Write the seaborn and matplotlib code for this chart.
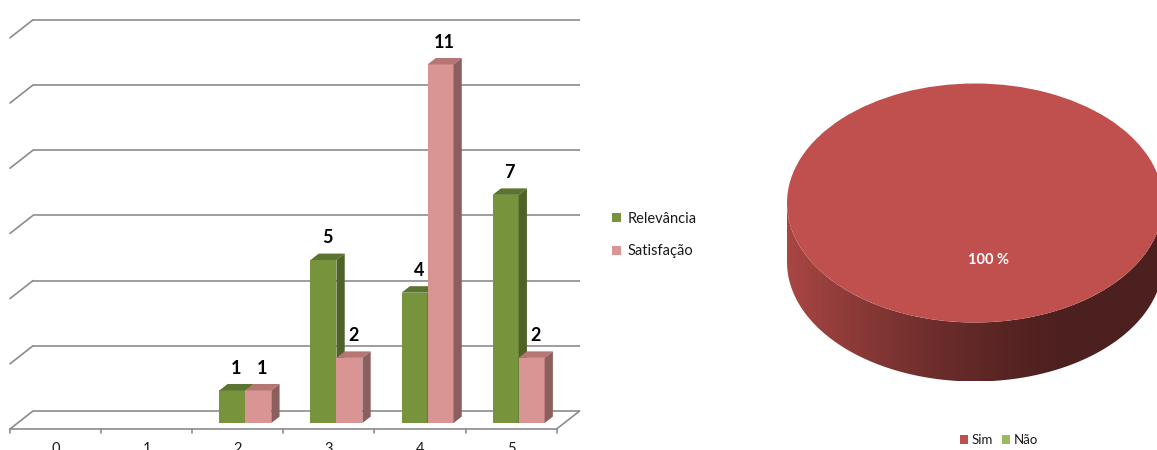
import numpy as np
import pandas as pd
import seaborn as sns
import matplotlib
matplotlib.use("Agg")
import matplotlib.pyplot as plt
from matplotlib.patches import Polygon, Patch, PathPatch
from matplotlib.path import Path
import matplotlib.transforms as mtransforms
from matplotlib.colors import to_rgb

# ---- data -------------------------------------------------------------
notas = ["0", "1", "2", "3", "4", "5"]
relevancia = [0, 0, 1, 5, 4, 7]
satisfacao = [0, 0, 1, 2, 11, 2]
series_names = ["Relevância", "Satisfação"]
front_colors = ["#77933C", "#D99594"]
top_colors = ["#5B7530", "#B67674"]
side_colors = ["#4F6228", "#8C5F5E"]
grid_values = [0, 2, 4, 6, 8, 10, 12]

respostas = ["Sim", "Não"]
percentuais = [100, 0]
pie_colors = ["#C0504D", "#9BBB59"]

# ---- style ------------------------------------------------------------
sns.set_theme(style="white")
plt.rcParams["font.family"] = ["Lato", "DejaVu Sans"]
TEXT = "#1a1a1a"
GRID = "#8c8c8c"

W, H = 1157, 450
fig = plt.figure(figsize=(W / 100, H / 100), dpi=100)

# ---- 3-D looking column chart -----------------------------------------
PX_X = 91.1          # pixels per category
PX_Y = 32.6          # pixels per unit of value
X0, Y0 = 10, 429     # pixel position of front-left floor corner
DEPTH = (23 / PX_X, 18 / PX_Y)   # full depth of the chart box, data units
BAR_POS = 0.33       # depth fraction where the bar fronts sit
BAR_DEPTH = 0.36     # depth fraction of each bar

ax = fig.add_axes([0, 0, 600 / W, 1])

df = pd.DataFrame({
    "Nota": notas * 2,
    "Valor": relevancia + satisfacao,
    "Série": [series_names[0]] * len(notas) + [series_names[1]] * len(notas),
})
sns.barplot(data=df, x="Nota", y="Valor", hue="Série", order=notas,
            hue_order=series_names, palette=front_colors, saturation=1,
            width=0.57, dodge=True, linewidth=0, legend=False, ax=ax)
ax.set_xlim(-0.5 - X0 / PX_X, -0.5 + (600 - X0) / PX_X)
ax.set_ylim((Y0 - H) / PX_Y, Y0 / PX_Y)
ax.axis("off")

# back wall gridlines, left wall edges and floor
dx_full, dy_full = DEPTH
for v in grid_values:
    ax.plot([-0.5 + dx_full, 5.5 + dx_full], [v + dy_full, v + dy_full],
            color=GRID, lw=1.2, zorder=1, solid_capstyle="butt")
    ax.plot([-0.5, -0.5 + dx_full], [v, v + dy_full],
            color=GRID, lw=1.2, zorder=1)
ax.plot([-0.5, 5.5], [0, 0], color=GRID, lw=1.2, zorder=1)
ax.plot([5.5, 5.5 + dx_full], [0, dy_full], color=GRID, lw=1.2, zorder=1)
tick_len = 4 / PX_Y
for k in range(len(notas) + 1):
    ax.plot([k - 0.5, k - 0.5], [0, -tick_len], color=GRID, lw=1.2, zorder=1)
for k, lab in enumerate(notas):
    ax.text(k, -13 / PX_Y, lab, ha="center", va="top", fontsize=10.5,
            color=TEXT)

# turn the flat bars into boxes
sx, sy = BAR_POS * dx_full, BAR_POS * dy_full
bx, by = BAR_DEPTH * dx_full, BAR_DEPTH * dy_full
shift = mtransforms.Affine2D().translate(sx, sy) + ax.transData
for i, container in enumerate(ax.containers):
    for bar in container:
        h = bar.get_height()
        bar.set_zorder(3 + i)
        if h <= 0:
            bar.set_visible(False)
            continue
        bar.set_transform(shift)
        x0 = bar.get_x() + sx
        x1 = x0 + bar.get_width()
        y0, y1 = sy, h + sy
        top = Polygon([(x0, y1), (x1, y1), (x1 + bx, y1 + by), (x0 + bx, y1 + by)],
                      closed=True, fc=top_colors[i], ec="none", zorder=3 + i)
        side = Polygon([(x1, y0), (x1, y1), (x1 + bx, y1 + by), (x1 + bx, y0 + by)],
                       closed=True, fc=side_colors[i], ec="none", zorder=3 + i)
        ax.add_patch(top)
        ax.add_patch(side)
        ax.text((x0 + x1) / 2 + bx / 2, y1 + 0.42, f"{h:g}", ha="center",
                va="bottom", fontsize=13, fontweight="bold", color="black",
                zorder=6)

bar_handles = [Patch(facecolor=c, edgecolor="none", label=n)
               for c, n in zip(front_colors, series_names)]
fig.legend(handles=bar_handles, loc="center left",
           bbox_to_anchor=(599 / W, 1 - 235 / H), frameon=False,
           fontsize=10.5, handlelength=0.6, handleheight=0.6,
           handletextpad=0.45, labelspacing=1.3, labelcolor=TEXT)

# ---- 3-D looking pie ---------------------------------------------------
CX, CY = 975, 203      # centre of the top face, pixels
RX, RY = 188, 119.5    # radii of the top face, pixels
THICK = 59 / RY        # cylinder height in data units

ax2 = fig.add_axes([700 / W, 0, (W - 700) / W, 1])
wedges, _, autotexts = ax2.pie(
    percentuais, colors=pie_colors, startangle=98.4375, pctdistance=0.48,
    autopct=lambda p: f"{p:.0f} %" if p > 0 else "",
    wedgeprops=dict(linewidth=0, zorder=3),
    textprops=dict(color="white", fontsize=10.5, fontweight="bold"))
for t in autotexts:
    t.set_zorder(5)
ax2.set_aspect("auto")
ax2.axis("off")

theta = np.linspace(np.pi, 2 * np.pi, 200)
upper = np.column_stack([np.cos(theta), np.sin(theta)])
lower = upper[::-1] - np.array([0, THICK])
verts = np.vstack([upper, lower, upper[:1]])
codes = [Path.MOVETO] + [Path.LINETO] * (len(verts) - 2) + [Path.CLOSEPOLY]
band = PathPatch(Path(verts, codes), fc="none", ec="none")
ax2.add_patch(band)

xs = np.linspace(-1, 1, 400)
t = np.clip(((xs + 1) / 2) / 0.75, 0, 1)
shade = 0.40 + 0.48 * (1 - t) ** 1.4
base = np.array(to_rgb(pie_colors[0]))
grad = (shade[:, None] * base[None, :])[None, :, :]
img = ax2.imshow(grad, extent=[-1, 1, -1 - THICK, 0], aspect="auto",
                 interpolation="bilinear", zorder=2)
img.set_clip_path(band)
ax2.set_xlim((700 - CX) / RX, (W - CX) / RX)
ax2.set_ylim((CY - H) / RY, CY / RY)

pie_handles = [Patch(facecolor=c, edgecolor="none", label=n)
               for c, n in zip(pie_colors, respostas)]
fig.legend(handles=pie_handles, loc="center", ncol=2,
           bbox_to_anchor=(999 / W, 1 - 440 / H), frameon=False,
           fontsize=9.5, handlelength=0.6, handleheight=0.6,
           handletextpad=0.3, columnspacing=0.7, labelcolor=TEXT)

fig.savefig("out.png", dpi=100)
